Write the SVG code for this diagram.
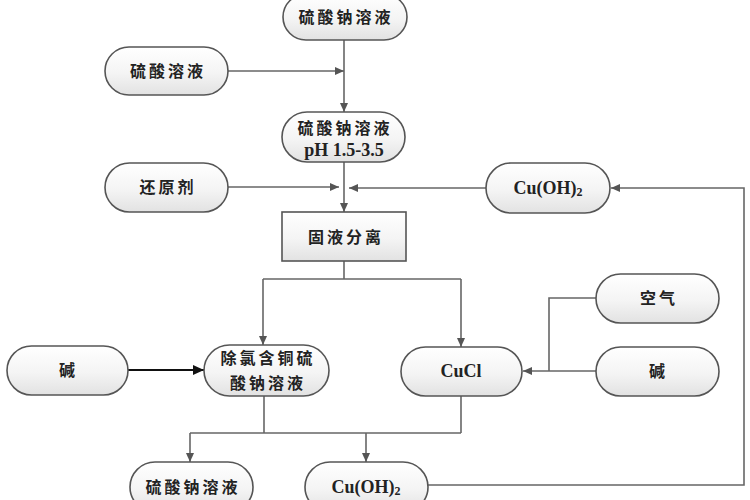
<svg xmlns="http://www.w3.org/2000/svg" width="750" height="500" viewBox="0 0 750 500">
<defs>
<linearGradient id="g" x1="0" y1="0" x2="0" y2="1">
<stop offset="0" stop-color="#ffffff"/>
<stop offset="0.55" stop-color="#f4f4f4"/>
<stop offset="1" stop-color="#e2e2e2"/>
</linearGradient>
<marker id="a" markerUnits="userSpaceOnUse" markerWidth="10" markerHeight="10" refX="9" refY="5" orient="auto">
<path d="M0,1 L9,5 L0,9 Z" fill="#555"/>
</marker>
<marker id="ab" markerUnits="userSpaceOnUse" markerWidth="12" markerHeight="12" refX="11" refY="6" orient="auto">
<path d="M0,1 L11,6 L0,11 Z" fill="#111"/>
</marker>
<style>
.n{fill:url(#g);stroke:#555;stroke-width:1.6}
.t{font-family:"Liberation Serif","Noto Sans CJK SC",serif;font-size:16px;font-weight:bold;fill:#222;text-anchor:middle;dominant-baseline:central}
.zh{letter-spacing:3px}
.l{font-size:18px}
.c{fill:none;stroke:#666;stroke-width:1.6}
.ca{fill:none;stroke:#666;stroke-width:1.6;marker-end:url(#a)}
.cb{fill:none;stroke:#111;stroke-width:2;marker-end:url(#ab)}
</style>
</defs>
<g id="connectors">
<path class="ca" d="M344,40 V112"/>
<path class="ca" d="M228,71 H344"/>
<path class="ca" d="M344,162 V212"/>
<path class="ca" d="M228,187 H339"/>
<path class="ca" d="M486,188 H349"/>
<path class="ca" d="M428,485 H744 V188 H611"/>
<path class="c" d="M344,261 V279"/>
<path class="c" d="M263,279 H461"/>
<path class="ca" d="M263,279 V345"/>
<path class="ca" d="M461,279 V347"/>
<path class="c" d="M596,298 H549 V371"/>
<path class="ca" d="M596,371 H523"/>
<path class="cb" d="M128,370 H204"/>
<path class="c" d="M264,396 V433"/>
<path class="c" d="M461,396 V433"/>
<path class="c" d="M190,433 H461"/>
<path class="ca" d="M190,433 V462"/>
<path class="ca" d="M366,433 V462"/>
</g>
<g id="n1"><rect class="n" x="283" y="-6" width="124" height="46" rx="23"/><text class="t zh" x="346" y="17">硫酸钠溶液</text></g>
<g id="n2"><rect class="n" x="105" y="47" width="123" height="48" rx="24"/><text class="t zh" x="168" y="71">硫酸溶液</text></g>
<g id="n3"><rect class="n" x="282" y="112" width="123" height="50" rx="25"/><text class="t zh" x="345" y="128">硫酸钠溶液</text><text class="t l" x="344" y="150">pH 1.5-3.5</text></g>
<g id="n4"><rect class="n" x="105" y="163" width="123" height="49" rx="24.5"/><text class="t zh" x="168" y="187">还原剂</text></g>
<g id="n5"><rect class="n" x="486" y="163" width="124" height="50" rx="25"/><text class="t l" x="548" y="188">Cu(OH)<tspan font-size="12" dy="4">2</tspan></text></g>
<g id="n6"><rect class="n" x="282" y="212" width="124" height="49"/><text class="t zh" x="346" y="237">固液分离</text></g>
<g id="n7"><rect class="n" x="596" y="274" width="123" height="49" rx="24.5"/><text class="t zh" x="659" y="298">空气</text></g>
<g id="n8"><rect class="n" x="7" y="346" width="121" height="49" rx="24.5"/><text class="t" x="67" y="370">碱</text></g>
<g id="n9"><rect class="n" x="204" y="345" width="125" height="51" rx="25.5"/><text class="t zh" x="268" y="358">除氯含铜硫</text><text class="t zh" x="268" y="383">酸钠溶液</text></g>
<g id="n10"><rect class="n" x="401" y="347" width="121" height="49" rx="24.5"/><text class="t l" x="461" y="371">CuCl</text></g>
<g id="n11"><rect class="n" x="596" y="347" width="123" height="49" rx="24.5"/><text class="t" x="657" y="371">碱</text></g>
<g id="n12"><rect class="n" x="130" y="462" width="123" height="50" rx="25"/><text class="t zh" x="193" y="487">硫酸钠溶液</text></g>
<g id="n13"><rect class="n" x="305" y="462" width="123" height="50" rx="25"/><text class="t l" x="366" y="487">Cu(OH)<tspan font-size="12" dy="4">2</tspan></text></g>
</svg>
